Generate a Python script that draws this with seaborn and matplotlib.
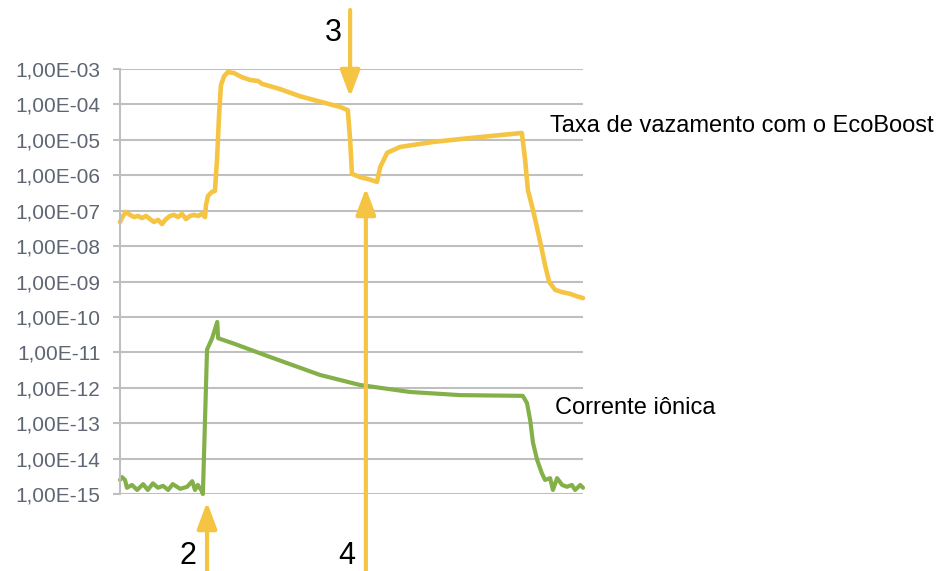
import matplotlib
matplotlib.use("Agg")
import matplotlib.pyplot as plt
from matplotlib.ticker import FuncFormatter, NullLocator
import seaborn as sns
import numpy as np

# leak rate (EcoBoost) - time in arbitrary units (0-100)
leak_time = [0, 0.65, 1.3, 2.16, 3.02, 3.89, 4.75, 5.62, 6.48, 7.34, 8.21, 9.07, 9.94,
             10.8, 11.66, 12.53, 13.39, 14.25, 15.12, 15.98, 16.85, 17.71, 18.36, 18.57,
             19.0, 19.87, 20.5, 20.95, 21.4, 21.8, 22.5, 23.3, 24.6, 26.3, 28.1, 29.8,
             30.7, 34.6, 38.9, 43.2, 47.5, 49.2, 49.7, 50.1, 51.8, 53.6, 55.5, 56.2,
             57.7, 60.5, 67.6, 74.9, 86.8, 87.5, 88.1, 89.2, 90.1, 90.9, 91.8, 92.7,
             94.0, 95.5, 97.2, 98.5, 100]
leak_rate = [4.8e-8, 7.1e-8, 9.2e-8, 7.6e-8, 6.6e-8, 7.1e-8, 6.2e-8, 7.1e-8, 5.8e-8,
             4.8e-8, 5.5e-8, 4.2e-8, 5.8e-8, 7.1e-8, 7.6e-8, 6.6e-8, 8.1e-8, 5.8e-8,
             7.1e-8, 7.6e-8, 7.1e-8, 8.1e-8, 6.6e-8, 1.45e-7, 2.6e-7, 3.4e-7, 3.6e-7,
             2.7e-6, 5.0e-5, 3.5e-4, 6.3e-4, 8.2e-4, 7.7e-4, 5.9e-4, 4.9e-4, 4.6e-4,
             3.8e-4, 2.7e-4, 1.7e-4, 1.2e-4, 8.5e-5, 6.9e-5, 1.0e-5, 1.1e-6, 8.9e-7,
             7.8e-7, 6.5e-7, 1.7e-6, 4.3e-6, 6.3e-6, 8.7e-6, 1.1e-5, 1.56e-5, 2.7e-6,
             3.8e-7, 1.05e-7, 3.2e-8, 1.07e-8, 2.9e-9, 9.7e-10, 5.8e-10, 5.0e-10,
             4.5e-10, 3.9e-10, 3.4e-10]

# ion current
ion_time = [0, 0.43, 1.08, 1.5, 2.6, 3.7, 5.0, 6.0, 7.1, 8.2, 9.3, 10.4, 11.4, 13.0,
            14.5, 15.6, 16.2, 16.8, 17.7, 17.9, 18.8, 19.9, 21.0, 21.2, 24.4, 32.4,
            43.2, 51.8, 62.6, 73.4, 87.0, 87.9, 88.6, 89.2, 90.1, 91.1, 91.8, 92.9,
            93.5, 94.4, 95.5, 96.5, 97.6, 98.3, 99.4, 100]
ion_current = [2.5e-15, 3.0e-15, 2.5e-15, 1.5e-15, 1.8e-15, 1.3e-15, 1.9e-15, 1.3e-15,
               2.0e-15, 1.5e-15, 1.7e-15, 1.3e-15, 1.9e-15, 1.4e-15, 1.6e-15, 2.3e-15,
               1.3e-15, 1.8e-15, 1.2e-15, 1.0e-15, 1.2e-11, 2.5e-11, 7.2e-11, 2.5e-11,
               1.8e-11, 7.4e-12, 2.3e-12, 1.2e-12, 7.6e-13, 6.2e-13, 5.9e-13, 3.7e-13,
               1.2e-13, 2.8e-14, 9.1e-15, 3.9e-15, 2.5e-15, 2.8e-15, 1.3e-15, 2.8e-15,
               1.8e-15, 1.6e-15, 1.8e-15, 1.3e-15, 1.8e-15, 1.5e-15]

decades = list(range(-15, -2))

# event markers
event_labels = ["2", "3", "4"]
event_times = [18.8, 49.7, 53.1]

YELLOW = "#F5C443"
GREEN = "#84B04A"
GRID = "#BFBFBF"

sns.set_style("white")
plt.rcParams["font.family"] = ["Liberation Sans", "DejaVu Sans"]

fig = plt.figure(figsize=(9.46, 5.71), dpi=100)
ax = fig.add_axes([0.12685, 0.13485, 0.48943, 0.74431])

sns.lineplot(x=leak_time, y=leak_rate, ax=ax, color=YELLOW, linewidth=3.3,
             estimator=None, sort=False)
sns.lineplot(x=ion_time, y=ion_current, ax=ax, color=GREEN, linewidth=3.0,
             estimator=None, sort=False)
for ln in ax.lines:
    ln.set_clip_on(False)
    ln.set_solid_joinstyle("round")

ax.set_yscale("log")
ax.set_ylim(1e-15, 1e-3)
ax.set_xlim(0, 100)
ax.set_yticks([10.0 ** d for d in decades])
ax.yaxis.set_minor_locator(NullLocator())
ax.yaxis.set_major_formatter(FuncFormatter(lambda v, p: "1,00E-%02d" % round(-np.log10(v))))
ax.set_xticks([])
ax.set_xlabel("")
ax.set_ylabel("")

ax.grid(axis="y", color=GRID, linewidth=1.5)
ax.set_axisbelow(True)
for side in ["top", "right", "bottom"]:
    ax.spines[side].set_visible(False)
ax.spines["left"].set_color(GRID)
ax.spines["left"].set_linewidth(1.5)
ax.tick_params(axis="y", length=5, width=1.5, color=GRID, pad=9,
               labelsize=15, labelcolor="#5E6573", left=True)

# arrows for the events (tail, tip in pixels from the bottom)
H = 571.0
arrow_y = {"2": (-5, 69), "3": (561, 474), "4": (-5, 383)}
for lab, t in zip(event_labels, event_times):
    tail, tip = arrow_y[lab]
    ax.annotate("", xy=(t, tip / H), xycoords=("data", "figure fraction"),
                xytext=(t, tail / H), textcoords=("data", "figure fraction"),
                annotation_clip=False,
                arrowprops=dict(arrowstyle="-|>,head_length=0.8,head_width=0.3",
                                mutation_scale=20, color=YELLOW, linewidth=3,
                                shrinkA=0, shrinkB=0))

W = 946.0
fig.text(333 / W, 1 - 33 / H, "3", fontsize=22, ha="center", va="center", color="black")
fig.text(188 / W, 1 - 556 / H, "2", fontsize=22, ha="center", va="center", color="black")
fig.text(347 / W, 1 - 556 / H, "4", fontsize=22, ha="center", va="center", color="black")

fig.text(550 / W, 1 - 132 / H, "Taxa de vazamento com o EcoBoost", fontsize=17,
         ha="left", va="baseline", color="black")
fig.text(555 / W, 1 - 414 / H, "Corrente iônica", fontsize=17,
         ha="left", va="baseline", color="black")

fig.savefig("out.png", dpi=100)
